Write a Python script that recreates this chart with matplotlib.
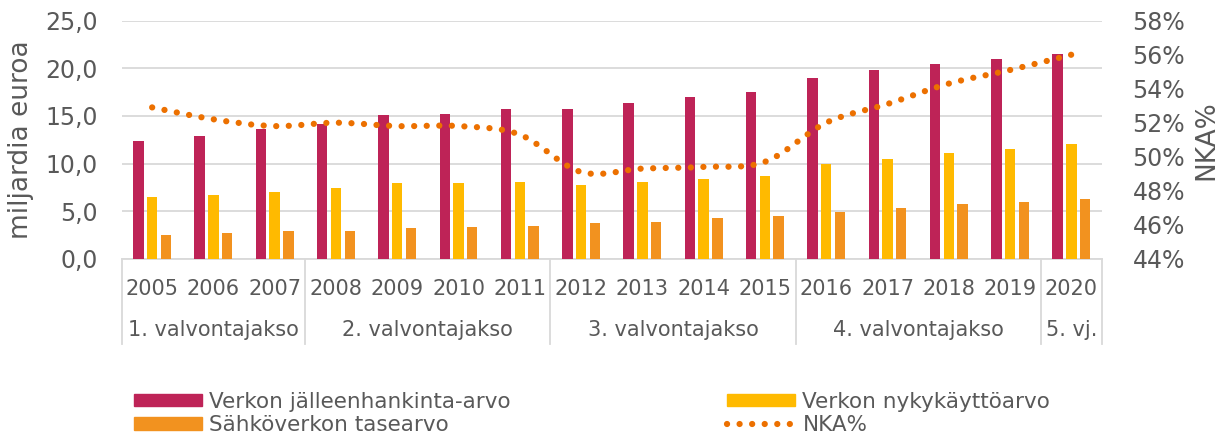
import numpy as np
import matplotlib
matplotlib.use("Agg")
import matplotlib.pyplot as plt
from matplotlib.path import Path
from matplotlib.patches import PathPatch, Patch
from matplotlib.lines import Line2D
from matplotlib.ticker import FuncFormatter, MultipleLocator

# data
vuodet = ['2005', '2006', '2007', '2008', '2009', '2010', '2011', '2012',
          '2013', '2014', '2015', '2016', '2017', '2018', '2019', '2020']
jha = [12.4, 12.9, 13.6, 14.2, 15.1, 15.2, 15.7, 15.7,
       16.4, 17.0, 17.5, 19.0, 19.8, 20.4, 21.0, 21.5]
nka = [6.5, 6.7, 7.0, 7.4, 7.9, 7.9, 8.1, 7.7,
       8.1, 8.4, 8.7, 9.9, 10.5, 11.1, 11.5, 12.1]
tase = [2.5, 2.7, 2.9, 2.9, 3.2, 3.3, 3.4, 3.7,
        3.9, 4.3, 4.5, 4.9, 5.3, 5.7, 6.0, 6.3]
nka_pros = [52.9, 52.2, 51.8, 52.0, 51.8, 51.8, 51.3, 49.1,
            49.3, 49.4, 49.7, 52.0, 53.1, 54.3, 55.1, 56.0]
jaksot = ['1. valvontajakso', '2. valvontajakso', '3. valvontajakso',
          '4. valvontajakso', '5. vj.']
jakso_pituus = [3, 4, 4, 4, 1]

sarjat = ['Verkon jälleenhankinta-arvo', 'Verkon nykykäyttöarvo',
          'Sähköverkon tasearvo', 'NKA%']

c_jha = '#BE2357'
c_nka = '#FFBA00'
c_tase = '#F2921F'
c_line = '#EC7000'
c_text = '#595959'
c_grid = '#D9D9D9'

plt.rcParams['font.family'] = 'DejaVu Sans'

fig = plt.figure(figsize=(12.32, 4.37), dpi=100)
W, H = 1232, 437
ax_l, ax_r, ax_t, ax_b = 121.5, 1102, 20.7, 258.7
ax = fig.add_axes([ax_l / W, 1 - ax_b / H, (ax_r - ax_l) / W, (ax_b - ax_t) / H])

x = np.arange(len(vuodet))
w = 0.17
d = 0.224
ax.bar(x - d, jha, w, color=c_jha, zorder=3)
ax.bar(x, nka, w, color=c_nka, zorder=3)
ax.bar(x + d, tase, w, color=c_tase, zorder=3)

ax.set_xlim(-0.5, len(vuodet) - 0.5)
ax.set_ylim(0, 25)
ax.yaxis.set_major_locator(MultipleLocator(5))
ax.yaxis.set_major_formatter(FuncFormatter(lambda v, p: f'{v:.1f}'.replace('.', ',')))
ax.grid(axis='y', color=c_grid, lw=1.3, zorder=0)
ax.set_xticks([])
ax.tick_params(axis='y', length=0, pad=17, labelsize=17, labelcolor=c_text)
for s in ['top', 'left', 'right']:
    ax.spines[s].set_visible(False)
ax.spines['bottom'].set_color(c_grid)
ax.spines['bottom'].set_linewidth(1.3)
ax.set_ylabel('miljardia euroa', fontsize=19, color=c_text, labelpad=8)

# kaksitasoinen kategoria-akseli
def y_ax(ypx):
    return (ax_b - ypx) / (ax_b - ax_t)

trans = ax.get_xaxis_transform()
for i, v in enumerate(vuodet):
    ax.text(i, y_ax(295), v, ha='center', va='baseline', fontsize=15,
            color=c_text, transform=trans, clip_on=False)

alku = -0.5
rajat = [alku]
for nimi, n in zip(jaksot, jakso_pituus):
    ax.text(alku + n / 2, y_ax(336.5), nimi, ha='center', va='baseline',
            fontsize=15, color=c_text, transform=trans, clip_on=False)
    alku += n
    rajat.append(alku)
for r in rajat:
    ax.plot([r, r], [0, y_ax(344)], color=c_grid, lw=1.3, transform=trans,
            clip_on=False, zorder=1)

# NKA% oikealla akselilla, pehmennetty viiva
ax2 = ax.twinx()
ax2.set_ylim(44, 58)
ax2.yaxis.set_major_locator(MultipleLocator(2))
ax2.yaxis.set_major_formatter(FuncFormatter(lambda v, p: f'{v:.0f}%'))
ax2.tick_params(axis='y', length=0, pad=22, labelsize=17, labelcolor=c_text)
for s in ['top', 'left', 'right', 'bottom']:
    ax2.spines[s].set_visible(False)
ax2.set_ylabel('NKA%', fontsize=19, color=c_text, labelpad=6)

pts = np.column_stack([x, nka_pros]).astype(float)
ext = np.vstack([pts[0], pts, pts[-1]])
verts = [pts[0]]
codes = [Path.MOVETO]
for i in range(len(pts) - 1):
    p0, p1, p2, p3 = ext[i], ext[i + 1], ext[i + 2], ext[i + 3]
    verts += [p1 + (p2 - p0) / 6, p2 - (p3 - p1) / 6, p2]
    codes += [Path.CURVE4] * 3
viiva = PathPatch(Path(verts, codes), fill=False, edgecolor=c_line, lw=4.5,
                  linestyle=(0, (0.01, 2.0)), capstyle='round', zorder=4)
ax2.add_patch(viiva)

# selite kahteen sarakkeeseen
h_jha = Patch(color=c_jha)
h_nka = Patch(color=c_nka)
h_tase = Patch(color=c_tase)
h_line = Line2D([], [], color=c_line, lw=4.5, linestyle=(0, (0.01, 2.0)),
                dash_capstyle='round')
kw = dict(loc='upper left', frameon=False, fontsize=15.5, borderpad=0,
          borderaxespad=0, handlelength=3.14, handleheight=0.5,
          handletextpad=0.35, labelspacing=0.15, labelcolor=c_text)
fig.legend([h_jha, h_tase], [sarjat[0], sarjat[2]],
           bbox_to_anchor=(134 / W, 1 - 392 / H), **kw)
fig.legend([h_nka, h_line], [sarjat[1], sarjat[3]],
           bbox_to_anchor=(727.3 / W, 1 - 392 / H), **kw)

fig.savefig('out.png', dpi=100)
